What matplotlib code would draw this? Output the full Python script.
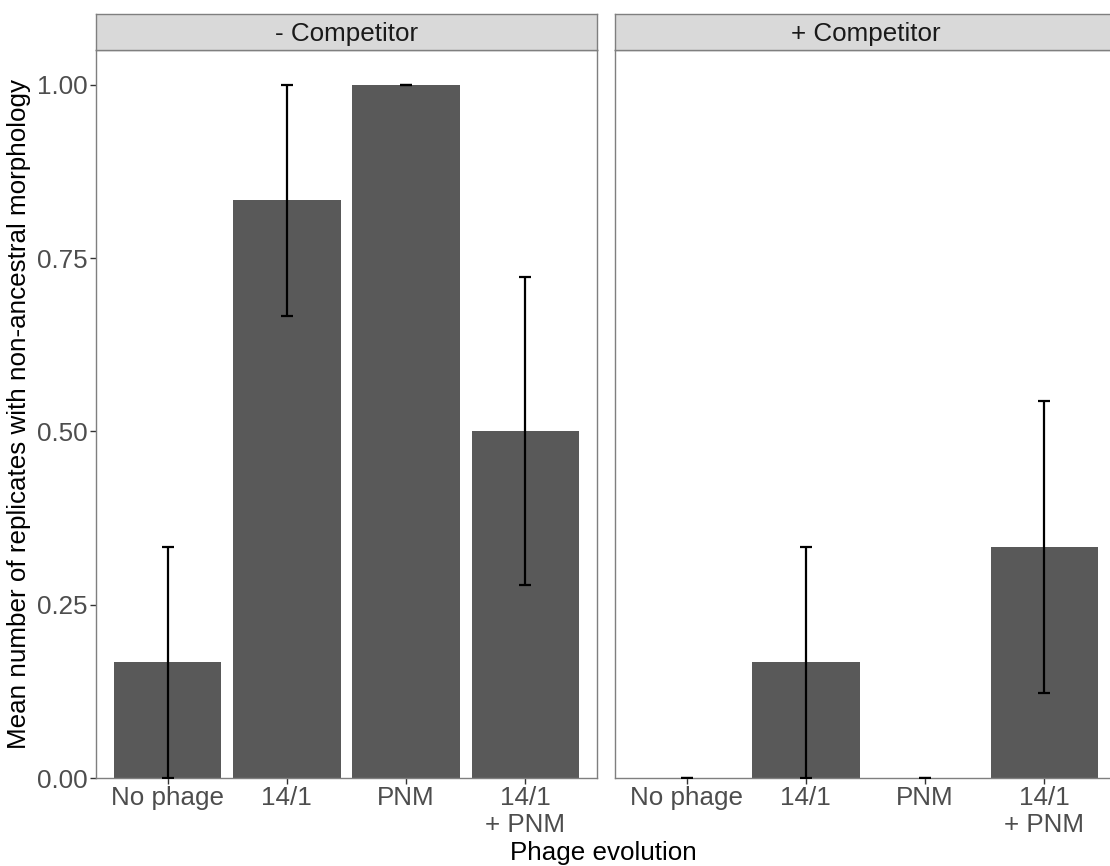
import numpy as np
import matplotlib
matplotlib.use("Agg")
import matplotlib.pyplot as plt

plt.rcParams['font.family'] = ['Liberation Sans', 'DejaVu Sans']

# data
categories = ["No phage", "14/1", "PNM", "14/1\n+ PNM"]
facets = ["- Competitor", "+ Competitor"]
means = {
    "- Competitor": [0.1667, 0.8333, 1.0, 0.5],
    "+ Competitor": [0.0, 0.1667, 0.0, 0.3333],
}
err_low = {
    "- Competitor": [0.0, 0.6667, 1.0, 0.278],
    "+ Competitor": [0.0, 0.0, 0.0, 0.122],
}
err_high = {
    "- Competitor": [0.3333, 1.0, 1.0, 0.722],
    "+ Competitor": [0.0, 0.3333, 0.0, 0.544],
}
yticks = [0.0, 0.25, 0.5, 0.75, 1.0]

W, H = 1110, 866
fig = plt.figure(figsize=(W / 100, H / 100), dpi=100)

bar_color = "#595959"
border = "#7f7f7f"
tick_col = "#4d4d4d"
fs = 18.7


def px_axes(x0, x1, ytop, ybot):
    return fig.add_axes([x0 / W, (H - ybot) / H, (x1 - x0) / W, (ybot - ytop) / H])


panels = [(96, 597), (615, 1116)]
for i, (facet, (x0, x1)) in enumerate(zip(facets, panels)):
    ax = px_axes(x0, x1, 50, 778)
    x = np.arange(1, len(categories) + 1)
    ax.bar(x, means[facet], width=0.9, color=bar_color, zorder=2)
    lo = np.array(means[facet]) - np.array(err_low[facet])
    hi = np.array(err_high[facet]) - np.array(means[facet])
    ax.errorbar(x, means[facet], yerr=[lo, hi], fmt="none", ecolor="black",
                elinewidth=1.6, capsize=4.3, capthick=1.6, zorder=3)
    ax.set_xlim(0.4, 4.6)
    ax.set_ylim(0, 1.05)
    ax.set_xticks(x)
    ax.set_xticklabels(categories, fontsize=fs, color=tick_col, linespacing=1.12)
    ax.set_yticks(yticks)
    if i == 0:
        ax.set_yticklabels([f"{v:.2f}" for v in yticks], fontsize=fs, color=tick_col)
        ax.set_ylabel("Mean number of replicates with non-ancestral morphology",
                      fontsize=fs, color="black", labelpad=4)
    else:
        ax.tick_params(axis="y", left=False, labelleft=False)
    ax.tick_params(axis="both", direction="out", length=4, width=1, color="#333333", pad=2)
    for s in ax.spines.values():
        s.set_color(border)
        s.set_linewidth(1.0)

    # facet strip
    sax = px_axes(x0, x1, 14, 50)
    sax.set_xticks([])
    sax.set_yticks([])
    sax.set_facecolor("#d9d9d9")
    for s in sax.spines.values():
        s.set_color(border)
        s.set_linewidth(1.0)
    sax.text(0.5, 0.45, facet, transform=sax.transAxes, ha="center", va="center",
             fontsize=fs, color="#1a1a1a")

fig.text(603 / W, 1 - 853 / H, "Phage evolution", ha="center", va="center",
         fontsize=fs, color="black")

fig.savefig("out.png", dpi=100)
